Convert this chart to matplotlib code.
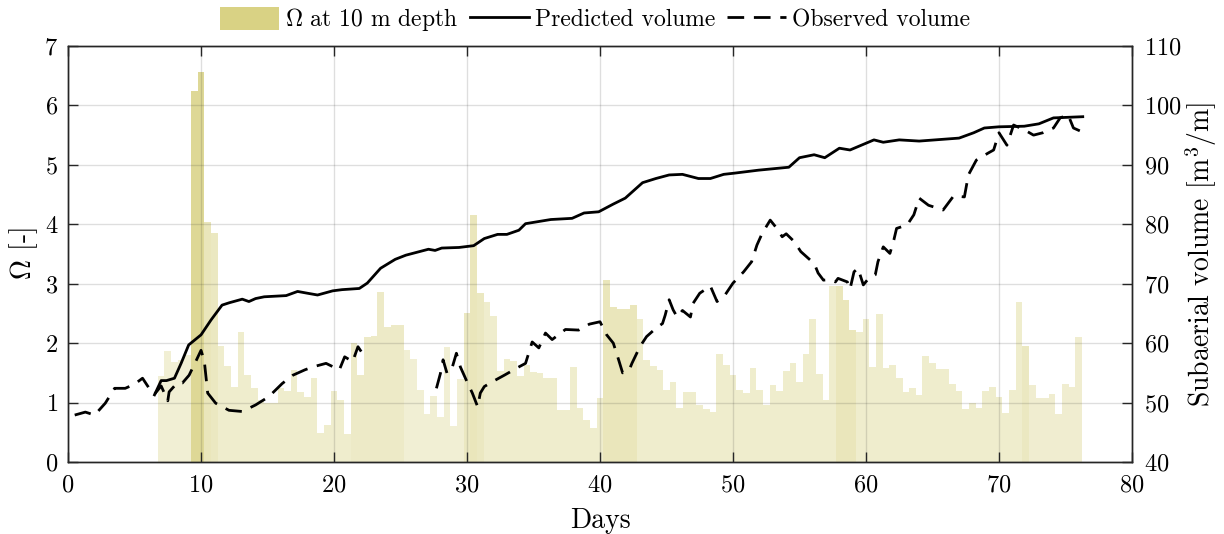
import numpy as np
import matplotlib
matplotlib.use("Agg")
import matplotlib.pyplot as plt
from matplotlib.patches import Patch
from matplotlib.lines import Line2D

# ---- data -------------------------------------------------------------
bar_days = np.arange(7.0, 76.01, 0.5)
omega = [
    1.45, 1.86, 1.69, 1.72, 1.80, 6.24, 6.56, 4.03, 3.85, 1.95,
    1.61, 1.27, 2.18, 1.47, 1.25, 1.05, 1.00, 1.00, 1.25, 1.20,
    1.55, 1.18, 1.10, 1.41, 0.49, 0.63, 1.19, 1.04, 0.47, 2.00,
    1.47, 2.10, 2.12, 2.86, 2.27, 2.30, 2.30, 1.89, 1.73, 1.21,
    0.81, 1.11, 0.76, 1.93, 0.61, 1.40, 2.50, 4.16, 2.85, 2.70,
    2.46, 1.53, 1.74, 1.70, 1.45, 1.63, 1.51, 1.50, 1.42, 1.41,
    0.88, 0.88, 1.60, 0.91, 0.71, 0.57, 1.08, 3.06, 2.60, 2.58,
    2.58, 2.64, 2.41, 1.72, 1.61, 1.55, 1.21, 1.34, 0.91, 1.17,
    1.17, 0.96, 0.89, 0.84, 1.82, 1.64, 1.47, 1.21, 1.16, 1.58,
    1.22, 0.96, 1.29, 1.20, 1.53, 1.66, 1.35, 1.81, 2.41, 1.48,
    1.04, 2.96, 2.96, 2.73, 2.22, 2.18, 2.41, 1.60, 2.49, 1.58,
    1.63, 1.42, 1.18, 1.24, 1.13, 1.79, 1.67, 1.57, 1.56, 1.31,
    1.19, 0.89, 0.99, 0.91, 1.19, 1.26, 1.09, 0.82, 1.21, 2.69,
    1.95, 1.30, 1.08, 1.08, 1.14, 0.81, 1.31, 1.26, 2.10,
]

pred_days = [6.5, 7.0, 7.4, 8.0, 8.5, 9.07, 10.0, 10.75, 11.58, 12.13, 13.1,
             13.6, 14.1, 14.75, 16.4, 17.26, 18.0, 18.76, 19.9, 20.6, 21.9,
             22.5, 23.5, 24.6, 25.4, 27.1, 27.6, 28.1, 29.4, 30.5, 31.3,
             32.3, 33.0, 33.9, 34.4, 36.3, 37.9, 38.8, 39.9, 41.0, 41.9,
             43.2, 44.2, 45.2, 46.2, 47.4, 48.3, 49.3, 50.1, 51.9, 54.2,
             55.0, 56.1, 56.9, 58.0, 58.8, 60.6, 61.3, 62.5, 64.0, 67.0,
             68.1, 68.9, 70.0, 71.9, 73.0, 74.1, 76.3]
pred_volume = [51.3, 53.7, 53.7, 54.1, 56.6, 59.7, 61.4, 63.9, 66.4, 66.8, 67.4,
               67.0, 67.5, 67.8, 68.0, 68.7, 68.4, 68.1, 68.8, 69.0, 69.2,
               70.1, 72.6, 74.1, 74.8, 75.8, 75.6, 76.0, 76.1, 76.4, 77.6,
               78.3, 78.3, 79.0, 80.1, 80.8, 81.0, 81.9, 82.1, 83.4, 84.4,
               87.0, 87.7, 88.3, 88.4, 87.7, 87.7, 88.4, 88.6, 89.1, 89.6,
               91.2, 91.7, 91.2, 92.8, 92.5, 94.2, 93.8, 94.2, 94.0, 94.5,
               95.4, 96.2, 96.4, 96.5, 96.9, 97.9, 98.1]

obs_days = [0.5, 1.3, 2.0, 2.8, 3.5, 4.3, 5.0, 5.6, 6.1, 6.5, 7.0, 7.5, 7.6,
            8.2, 8.6, 9.1, 9.6, 10.0, 10.25, 10.5, 11.1, 12.1, 13.1, 14.1,
            15.1, 16.1, 16.9, 17.8, 18.4, 19.4, 20.4, 20.8, 21.4, 21.8, 22.4,
            25.0,
            27.7, 28.0, 28.2, 28.5, 28.9, 29.2, 29.5, 30.0, 30.4, 30.8, 31.0,
            31.3, 31.9, 32.8, 33.9, 34.4, 34.9, 35.4, 35.9, 36.4, 37.4, 38.4,
            39.2, 40.0, 40.5, 41.0, 41.4, 41.7, 42.2, 42.4, 43.0, 43.5, 44.2,
            44.7, 44.9, 45.2, 45.5, 45.8, 46.2, 46.8, 47.0, 47.5, 48.3, 48.8,
            49.4, 50.0, 50.8, 51.4, 51.8, 52.2, 52.8, 53.3, 53.7, 54.0, 54.6,
            55.1, 55.8, 56.2, 56.4, 56.8, 57.3, 57.7, 57.9, 58.6, 58.8, 59.1,
            59.4, 59.8, 60.2, 60.7, 60.9, 61.3, 61.8, 62.1, 62.3, 63.1, 63.6,
            64.0, 64.7, 65.8, 66.6, 67.4, 67.7, 68.3, 69.2, 69.6, 70.0, 70.6,
            71.1, 71.9, 72.6, 73.3, 74.1, 74.6, 75.2, 75.6, 76.3]
obs_volume = [47.9, 48.4, 47.9, 49.9, 52.4, 52.4, 53.1, 54.1, 52.4, 51.4, 52.8,
              50.3, 51.8, 53.3, 53.3, 54.6, 56.9, 58.8, 56.9, 51.6, 49.9, 48.7,
              48.5, 49.6, 51.0, 53.2, 54.6, 55.5, 56.0, 56.6, 55.5, 57.7, 56.9,
              59.4, 57.4,
              np.nan,
              52.4, 54.9, 57.2, 54.9, 56.0, 58.3, 56.0, 53.5, 51.6, 49.3, 51.6,
              52.7, 53.5, 54.6, 56.0, 56.6, 60.2, 59.2, 61.7, 60.6, 62.3, 62.2,
              63.2, 63.6, 61.4, 60.0, 57.2, 55.0, 55.5, 56.6, 59.4, 61.1, 62.5,
              63.3, 64.7, 67.3, 65.6, 64.4, 65.5, 64.4, 66.7, 68.4, 69.6, 67.0,
              68.1, 70.1, 72.0, 73.7, 76.5, 78.5, 80.7, 79.3, 77.9, 78.4, 77.1,
              75.4, 74.0, 72.9, 71.8, 70.6, 70.7, 70.3, 70.9, 70.3, 69.1, 72.0,
              72.6, 69.8, 70.9, 71.5, 73.7, 76.2, 75.1, 77.4, 79.3, 79.9, 81.6,
              84.4, 83.2, 82.4, 84.8, 84.6, 88.3, 90.8, 92.0, 92.5, 95.4, 93.3,
              96.7, 95.9, 95.0, 95.4, 96.2, 97.9, 98.4, 96.2, 95.5]

# ---- styling ------------------------------------------------------------
bar_rgb = (0.851, 0.824, 0.518)
bar_alpha = ([0.35] * 5 + [0.85, 0.85, 0.55, 0.5] + [0.4] * 20 +
             [0.45] * 8 + [0.35] * 9 + [0.5, 0.55, 0.5] + [0.4] * 18 +
             [0.55] * 5 + [0.4] * 30 + [0.55] * 3 + [0.4] * 25 + [0.5] +
             [0.38] * 9)
axis_color = (0.15, 0.15, 0.15)
dash = (0, (6.0, 3.5))

plt.rcParams.update({
    "font.family": "cmr10",
    "mathtext.fontset": "cm",
    "axes.unicode_minus": False,
    "axes.formatter.use_mathtext": True,
    "font.size": 17,
})

fig = plt.figure(figsize=(12.24, 5.34), dpi=100)
ax = fig.add_axes([0.0556, 0.1348, 0.8692, 0.7791])
ax2 = ax.twinx()

colors = [bar_rgb + (a,) for a in bar_alpha]
ax.bar(bar_days, omega, width=0.5, color=colors, linewidth=0, zorder=1)

ax2.plot(pred_days, pred_volume, color="black", lw=2.0, zorder=3)
ax2.plot(obs_days, obs_volume, color="black", lw=2.0, linestyle=dash, zorder=3)

ax.set_xlim(0, 80)
ax.set_ylim(0, 7)
ax2.set_ylim(40, 110)
ax.set_xticks(np.arange(0, 81, 10))
ax.set_yticks(np.arange(0, 8, 1))
ax2.set_yticks(np.arange(40, 111, 10))

ax.grid(True, color=axis_color, alpha=0.15, lw=1.0)
ax.set_axisbelow(False)

for a in (ax, ax2):
    for s in a.spines.values():
        s.set_color(axis_color)
        s.set_linewidth(1.0)
ax.tick_params(axis="both", direction="in", length=7, width=1.0,
               colors=axis_color, labelsize=17.5, top=True, labelcolor="black")
ax.tick_params(axis="x", pad=9)
ax.tick_params(axis="y", pad=7)
ax2.tick_params(axis="y", direction="in", length=7, width=1.0,
                colors=axis_color, labelsize=17.5, pad=9, labelcolor="black")

ax.set_xlabel("Days", fontsize=20, labelpad=8)
ax.set_ylabel(r"$\Omega$ [-]", fontsize=20, labelpad=3)
ax2.set_ylabel(r"Subaerial volume [m$^3$/m]", fontsize=20, labelpad=1)

handles = [
    Patch(facecolor=bar_rgb, edgecolor="none", label=r"$\Omega$ at 10 m depth"),
    Line2D([], [], color="black", lw=2.0, label="Predicted volume"),
    Line2D([], [], color="black", lw=2.0, linestyle=dash, label="Observed volume"),
]
fig.legend(handles=handles, loc="center", bbox_to_anchor=(0.486, 0.963),
           ncol=3, frameon=False, fontsize=17, handlelength=2.5,
           handleheight=1.1, handletextpad=0.25, columnspacing=0.5)

fig.savefig("out.png", dpi=100)
